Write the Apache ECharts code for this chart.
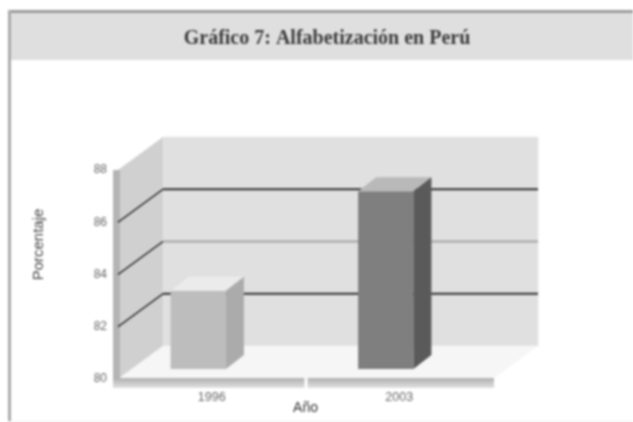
<!DOCTYPE html>
<html>
<head>
<meta charset="utf-8">
<title>Gráfico 7</title>
<style>
  html, body { margin: 0; padding: 0; background: #fff; overflow: hidden; }
  #chart { width: 633px; height: 422px; filter: blur(0.8px); }
</style>
<script src="https://cdn.jsdelivr.net/npm/echarts@6/dist/echarts.min.js"></script>
</head>
<body>
<div id="chart"></div>
<script>
const categories = ['1996', '2003'];
const literacy = [83, 86.8];
const yMin = 80;
const yMax = 88;
const yStep = 2;
const gridValues = [82, 84, 86];
const chartTitle = 'Gráfico 7: Alfabetización en Perú';
const xName = 'Año';
const yName = 'Porcentaje';

// colours for each bar: front, top, side
const barColors = [
  ['#bdbdbd', '#ebebeb', '#ababab'],
  ['#7f7f7f', '#b9b9b9', '#5a5a5a']
];
const backLineColors = ['#2e2e2e', '#a4a4a4', '#2e2e2e'];

// fake 3d offsets, in pixels
const wallDx = 45;
const wallDy = -33;
const barDx = 18;
const barDy = -14;
const barFrontDx = -13.5;
const barFrontDy = -10;

function poly(points, fill) {
  return { type: 'polygon', shape: { points: points }, style: { fill: fill } };
}

function renderWalls(params, api) {
  const cs = params.coordSys;
  const l = cs.x, r = cs.x + cs.width;
  const top = api.coord([0, yMax])[1];
  const bot = api.coord([0, yMin])[1];
  const mid = (api.coord([0, yMin])[0] + api.coord([1, yMin])[0]) / 2;
  return {
    type: 'group',
    children: [
      { type: 'rect', shape: { x: l + wallDx, y: top + wallDy, width: r - l, height: bot - top },
        style: { fill: '#e0e0e0', stroke: '#eaeaea', lineWidth: 1 } },
      poly([[l, top], [l + wallDx, top + wallDy], [l + wallDx, bot + wallDy], [l, bot]], '#d0d0d0'),
      poly([[l, bot], [l + wallDx, bot + wallDy], [r + wallDx, bot + wallDy], [r, bot]], '#f6f6f6'),
      { type: 'rect', shape: { x: l - 5, y: top, width: 7, height: bot - top + 5 }, style: { fill: '#b4b4b4' } },
      { type: 'rect', shape: { x: l - 5, y: bot - 1, width: r - l + 6, height: 10 },
        style: { fill: new echarts.graphic.LinearGradient(0, 0, 0, 1, [
          { offset: 0, color: '#b0b0b0' }, { offset: 1, color: '#e2e2e2' }
        ]) } },
      { type: 'rect', shape: { x: mid - 1, y: bot - 1, width: 3, height: 10 }, style: { fill: '#ffffff' } }
    ]
  };
}

function renderGridLine(params, api) {
  const cs = params.coordSys;
  const y = api.coord([0, api.value(0)])[1];
  return {
    type: 'group',
    children: [
      { type: 'line', shape: { x1: cs.x, y1: y, x2: cs.x + wallDx, y2: y + wallDy },
        style: { stroke: '#1c1c1c', lineWidth: 1.5 } },
      { type: 'line', shape: { x1: cs.x + wallDx, y1: y + wallDy, x2: cs.x + cs.width + wallDx, y2: y + wallDy },
        style: { stroke: backLineColors[params.dataIndex], lineWidth: 2 } }
    ]
  };
}

function renderBar(params, api) {
  const i = api.value(0);
  const top = api.coord([i, api.value(1)]);
  const base = api.coord([i, yMin]);
  const w = api.size([1, 0])[0] * 0.295;
  const x0 = base[0] + barFrontDx - w / 2;
  const x1 = x0 + w;
  const yT = top[1] + barFrontDy;
  const yB = base[1] + barFrontDy;
  const c = barColors[i];
  return {
    type: 'group',
    children: [
      { type: 'rect', shape: { x: x0, y: yT, width: w, height: yB - yT }, style: { fill: c[0] } },
      poly([[x0, yT], [x0 + barDx, yT + barDy], [x1 + barDx, yT + barDy], [x1, yT]], c[1]),
      poly([[x1, yT], [x1 + barDx, yT + barDy], [x1 + barDx, yB + barDy], [x1, yB]], c[2])
    ]
  };
}

const chart = echarts.init(document.getElementById('chart'), null, { renderer: 'canvas' });
chart.setOption({
  animation: false,
  backgroundColor: '#ffffff',
  title: {
    text: chartTitle,
    left: 322,
    top: 24,
    textAlign: 'center',
    textStyle: { fontFamily: 'Liberation Serif', fontSize: 20, fontWeight: 'bold', color: '#3c3c3c' }
  },
  grid: { left: 118, right: 140, top: 170, bottom: 43 },
  xAxis: {
    type: 'category',
    data: categories,
    name: xName,
    nameLocation: 'middle',
    nameGap: 22,
    nameMoveOverlap: false,
    nameTextStyle: { fontFamily: 'Liberation Sans', fontSize: 14, color: '#333333' },
    axisLine: { show: false },
    axisTick: { show: false },
    axisLabel: { margin: 12, fontFamily: 'Liberation Sans', fontSize: 12.5, color: '#666666' }
  },
  yAxis: {
    type: 'value',
    min: yMin,
    max: yMax,
    interval: yStep,
    name: yName,
    nameLocation: 'middle',
    nameGap: 72,
    nameTextStyle: { fontFamily: 'Liberation Sans', fontSize: 15, color: '#444444', padding: [0, 0, 0, 60] },
    axisLine: { show: false },
    axisTick: { show: false },
    splitLine: { show: false },
    axisLabel: { margin: 11, fontFamily: 'Liberation Sans', fontSize: 12, color: '#666666' }
  },
  graphic: [
    { type: 'rect', silent: true, z: -1, shape: { x: 8, y: 10, width: 625, height: 50 }, style: { fill: '#dfdfdf' } },
    { type: 'rect', silent: true, z: -1, shape: { x: 8, y: 10, width: 625, height: 3 }, style: { fill: '#9c9c9c' } },
    { type: 'rect', silent: true, z: -1, shape: { x: 8, y: 10, width: 3, height: 412 }, style: { fill: '#aaaaaa' } },
    { type: 'rect', silent: true, z: -1, shape: { x: 8, y: 421, width: 625, height: 1 }, style: { fill: '#eeeeee' } }
  ],
  series: [
    { type: 'custom', clip: false, z: 1, silent: true, renderItem: renderWalls, data: [0] },
    { type: 'custom', clip: false, z: 2, silent: true, renderItem: renderGridLine,
      data: gridValues.map(v => [v]), encode: { y: 0 } },
    { type: 'custom', clip: false, z: 3, silent: true, renderItem: renderBar,
      data: literacy.map((v, i) => [i, v]), encode: { x: 0, y: 1 } }
  ]
});
</script>
</body>
</html>
